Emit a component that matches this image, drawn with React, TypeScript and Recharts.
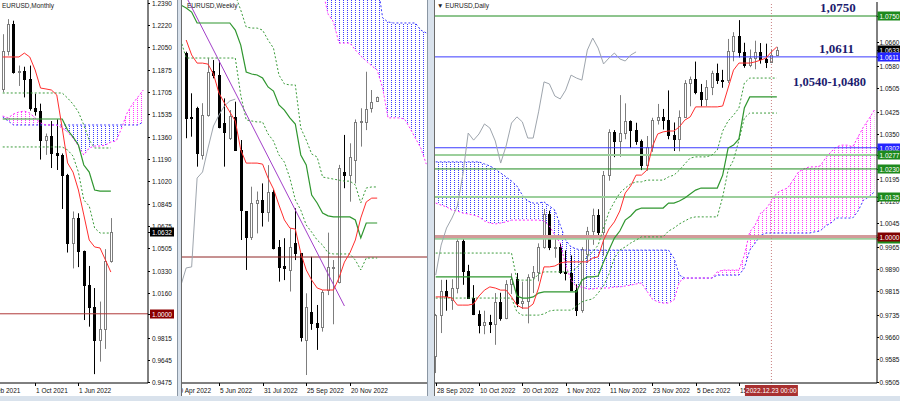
import React from 'react'
import { ComposedChart, Bar, Line, Area, XAxis, YAxis, ReferenceLine } from 'recharts'

const FONT = "'Liberation Sans', Arial, sans-serif"

// ---------- Monthly (slot 0 = Apr 2021) ----------
const mOpen = [1.1728, 1.2020, 1.2228, 1.1858, 1.1868, 1.1807, 1.1579, 1.1558, 1.1338, 1.1370, 1.1235, 1.1218, 1.1067, 1.0545, 1.0733, 1.0484, 1.0220, 1.0054, 0.9802, 0.9881, 1.0405]
const mHigh = [1.2150, 1.2266, 1.2254, 1.1909, 1.1900, 1.1909, 1.1692, 1.1616, 1.1386, 1.1482, 1.1495, 1.1233, 1.1076, 1.0787, 1.0773, 1.0486, 1.0368, 1.0198, 1.0094, 1.0497, 1.0736]
const mLow = [1.1704, 1.1986, 1.1847, 1.1752, 1.1664, 1.1562, 1.1524, 1.1186, 1.1222, 1.1121, 1.1106, 1.0806, 1.0471, 1.0349, 1.0359, 0.9952, 0.9901, 0.9536, 0.9632, 0.9730, 1.0393]
const mClose = [1.2020, 1.2228, 1.1858, 1.1868, 1.1807, 1.1579, 1.1558, 1.1338, 1.1370, 1.1235, 1.1218, 1.1067, 1.0545, 1.0733, 1.0484, 1.0220, 1.0054, 0.9802, 0.9881, 1.0405, 1.0632]
const mTenkan = [1.1975, 1.1975, 1.1975, 1.1975, 1.2005, 1.1975, 1.1875, 1.1736, 1.1729, 1.1721, 1.1683, 1.1429, 1.1160, 1.1090, 1.0952, 1.0760, 1.0567, 1.0514, 1.0506, 1.0414, 1.0321]
const mKijun = [1.1498, 1.1498, 1.1498, 1.1498, 1.1498, 1.1498, 1.1498, 1.1498, 1.1498, 1.1498, 1.1498, 1.1498, 1.1413, 1.1360, 1.1298, 1.1144, 1.1090, 1.0952, 1.0944, 1.0944, 1.0944]
const mDashUp = [1.1698, 1.1698, 1.1698, 1.1698, 1.1698, 1.1698, 1.1698, 1.1698, 1.1698, 1.1698, 1.1698, 1.1698, 1.1659, 1.1613, 1.1552, 1.1452, 1.1336, 1.1275, 1.1275, 1.1275, 1.1275]
const mDashLow = [1.1283, 1.1283, 1.1283, 1.1283, 1.1283, 1.1283, 1.1283, 1.1283, 1.1283, 1.1283, 1.1283, 1.1283, 1.1260, 1.1213, 1.1090, 1.0875, 1.0829, 1.0660, 1.0621, 1.0621, 1.0621]
const mSpanA = [1.1513, 1.1483, 1.1452, 1.1452, 1.1452, 1.1452, 1.1452, 1.1452, 1.1452, 1.1452, 1.1452, 1.1452, 1.1452, 1.1452, 1.1452, 1.1452, 1.1452, 1.1452, 1.1452, 1.1452, 1.1452, 1.1452, 1.1452, 1.1452, 1.1452, 1.1452, 1.1475]
const mSpanB = [1.1521, 1.1506, 1.1536, 1.1552, 1.1559, 1.1544, 1.1506, 1.1467, 1.1452, 1.1452, 1.1452, 1.1429, 1.1398, 1.1352, 1.1290, 1.1221, 1.1275, 1.1290, 1.1290, 1.1298, 1.1321, 1.1329, 1.1429, 1.1544, 1.1613, 1.1667, 1.1721]
const mTicks = [1.2390, 1.2220, 1.2050, 1.1875, 1.1705, 1.1535, 1.1360, 1.1190, 1.1020, 1.0845, 1.0675, 1.0505, 1.0330, 1.0160, 0.9815, 0.9645, 0.9475, 1.0632, 1.0000]
const mBoxes: Record<string, string> = { '1.0632': '#000000', '1.0000': '#8b0000' }
const mDates: [number, string][] = [[-2, 'Feb 2021'], [6, '1 Oct 2021'], [14, '1 Jun 2022']]

// ---------- Weekly (slot 0 = 24 Apr 2022) ----------
const wOpen = [1.0803, 1.0550, 1.0586, 1.0402, 1.0560, 1.0734, 1.0717, 1.0527, 1.0468, 1.0553, 1.0422, 1.0180, 1.0080, 1.0212, 1.0225, 1.0179, 1.0258, 1.0041, 0.9965, 0.9949, 1.0054, 1.0014, 0.9673, 0.9785, 0.9739, 0.9726, 0.9870, 0.9958, 0.9903, 1.0336, 1.0323, 1.0382, 1.0533, 1.0533, 1.0586, 1.0615]
const wHigh = [1.0809, 1.0645, 1.0592, 1.0606, 1.0783, 1.0776, 1.0774, 1.0625, 1.0579, 1.0612, 1.0461, 1.0180, 1.0277, 1.0258, 1.0290, 1.0362, 1.0265, 1.0067, 1.0074, 1.0113, 1.0192, 1.0014, 0.9857, 1.0001, 0.9811, 0.9870, 1.0096, 0.9988, 1.0363, 1.0481, 1.0448, 1.0542, 1.0586, 1.0730, 1.0658, 1.0632]
const wLow = [1.0468, 1.0474, 1.0356, 1.0384, 1.0553, 1.0704, 1.0507, 1.0356, 1.0461, 1.0422, 1.0067, 0.9949, 1.0067, 1.0093, 1.0120, 1.0139, 1.0030, 0.9903, 0.9909, 0.9864, 0.9988, 0.9667, 0.9535, 0.9713, 0.9634, 0.9706, 0.9850, 0.9735, 0.9896, 1.0271, 1.0218, 1.0290, 1.0435, 1.0500, 1.0569, 1.0612]
const wClose = [1.0546, 1.0546, 1.0409, 1.0560, 1.0730, 1.0717, 1.0514, 1.0494, 1.0556, 1.0422, 1.0185, 1.0080, 1.0212, 1.0225, 1.0179, 1.0258, 1.0034, 0.9962, 0.9955, 1.0041, 1.0014, 0.9686, 0.9804, 0.9739, 0.9723, 0.9864, 0.9962, 0.9962, 1.0350, 1.0323, 1.0395, 1.0533, 1.0537, 1.0582, 1.0611, 1.0629]
const wTenkan = [1.0855, 1.0796, 1.0764, 1.0764, 1.0760, 1.0721, 1.0646, 1.0607, 1.0571, 1.0536, 1.0422, 1.0370, 1.0370, 1.0370, 1.0366, 1.0311, 1.0268, 1.0205, 1.0146, 1.0114, 1.0110, 1.0016, 0.9949, 0.9909, 0.9878, 0.9870, 0.9870, 0.9870, 0.9917, 0.9980, 1.0016, 1.0067, 1.0154, 1.0217, 1.0232, 1.0232]
// the next four start at slot -1
const wKijun = [1.0993, 1.0981, 1.0965, 1.0922, 1.0922, 1.0922, 1.0922, 1.0922, 1.0922, 1.0922, 1.0894, 1.0835, 1.0729, 1.0721, 1.0717, 1.0705, 1.0670, 1.0654, 1.0599, 1.0579, 1.0548, 1.0524, 1.0402, 1.0363, 1.0244, 1.0213, 1.0173, 1.0162, 1.0158, 1.0158, 1.0158, 1.0158, 1.0146, 1.0075, 1.0134, 1.0134, 1.0134]
const wDashUp = [null, null, null, null, null, null, null, null, null, null, 1.1032, 1.0973, 1.0906, 1.0902, 1.0902, 1.0894, 1.0855, 1.0823, 1.0717, 1.0682, 1.0678, 1.0678, 1.0508, 1.0461, 1.0406, 1.0394, 1.0315, 1.0311, 1.0307, 1.0303, 1.0299, 1.0299, 1.0284, 1.0213, 1.0272, 1.0276, 1.0276]
const wDashLow = [1.0855, 1.0784, 1.0784, 1.0784, 1.0784, 1.0784, 1.0784, 1.0784, 1.0784, 1.0784, 1.0784, 1.0638, 1.0540, 1.0536, 1.0532, 1.0532, 1.0485, 1.0457, 1.0402, 1.0374, 1.0311, 1.0225, 1.0185, 1.0126, 1.0098, 1.0067, 1.0047, 1.0016, 1.0012, 1.0012, 1.0012, 1.0012, 0.9988, 0.9949, 0.9996, 0.9996, 0.9996]
const wChikou = [0.9886, 0.9957, 0.9961, 1.0311, 1.0335, 1.0429, 1.0516, 1.0559, 1.0595, 1.0615, 1.0622]
// spans start at slot 25
const wSpanA = [1.1091, 1.1091, 1.1091, 1.1091, 1.1091, 1.1091, 1.1091, 1.1091, 1.1091, 1.1091, 1.1091, 1.0942, 1.0926, 1.0922, 1.0922, 1.0922, 1.0922, 1.0922, 1.0894, 1.0883]
const wSpanB = [1.1052, 1.0957, 1.0926, 1.0843, 1.0843, 1.0843, 1.0816, 1.0792, 1.0772, 1.0753, 1.0737, 1.0666, 1.0548, 1.0548, 1.0548, 1.0544, 1.0508, 1.0469, 1.0429, 1.0366]
const wTrendIdx = [0, 29]
const wTrendVal = [1.1026, 0.9807]
const wDates: [number, string][] = [[-2, '10 Apr 2022'], [6, '5 Jun 2022'], [14, '31 Jul 2022'], [22, '25 Sep 2022'], [30, '20 Nov 2022']]

// ---------- Daily (slot 0 = 28 Sep 2022) ----------
const dOpen = [0.9594, 0.9733, 0.9815, 0.9786, 0.9825, 0.9985, 0.9884, 0.9792, 0.9738, 0.9700, 0.9708, 0.9702, 0.9779, 0.9722, 0.9838, 0.9856, 0.9774, 0.9780, 0.9862, 0.9880, 0.9965, 1.0078, 0.9964, 0.9965, 0.9881, 0.9876, 0.9819, 0.9749, 0.9940, 1.0019, 1.0073, 1.0014, 1.0208, 1.0354, 1.0324, 1.0351, 1.0392, 1.0362, 1.0324, 1.0242, 1.0306, 1.0396, 1.0407, 1.0398, 1.0344, 1.0331, 1.0406, 1.0523, 1.0536, 1.0491, 1.0467, 1.0508, 1.0555, 1.0533, 1.0531, 1.0630, 1.0682, 1.0626, 1.0585, 1.0606, 1.0626, 1.0605, 1.0594, 1.0618]
const dHigh = [0.9737, 0.9853, 0.9853, 0.9855, 0.9999, 0.9999, 0.9904, 0.9835, 0.9749, 0.9748, 0.9734, 0.9808, 0.9809, 0.9852, 0.9875, 0.9876, 0.9847, 0.9872, 0.9900, 0.9977, 1.0094, 1.0088, 0.9991, 0.9978, 0.9953, 0.9936, 0.9838, 0.9964, 1.0033, 1.0095, 1.0093, 1.0223, 1.0365, 1.0362, 1.0481, 1.0453, 1.0395, 1.0387, 1.0330, 1.0342, 1.0404, 1.0451, 1.0434, 1.0497, 1.0388, 1.0429, 1.0532, 1.0544, 1.0595, 1.0519, 1.0532, 1.0564, 1.0588, 1.0567, 1.0672, 1.0695, 1.0736, 1.0659, 1.0636, 1.0666, 1.0658, 1.0656, 1.0636, 1.0645]
const dLow = [0.9536, 0.9672, 0.9748, 0.9751, 0.9807, 0.9836, 0.9789, 0.9733, 0.9671, 0.9668, 0.9672, 0.9632, 0.9714, 0.9719, 0.9805, 0.9760, 0.9754, 0.9705, 0.9808, 0.9848, 0.9959, 0.9954, 0.9928, 0.9873, 0.9851, 0.9815, 0.9730, 0.9741, 0.9910, 0.9972, 1.0001, 0.9935, 1.0190, 1.0270, 1.0271, 1.0331, 1.0301, 1.0312, 1.0226, 1.0224, 1.0288, 1.0381, 1.0364, 1.0331, 1.0291, 1.0290, 1.0405, 1.0443, 1.0484, 1.0443, 1.0443, 1.0481, 1.0519, 1.0506, 1.0522, 1.0596, 1.0609, 1.0574, 1.0576, 1.0569, 1.0588, 1.0573, 1.0590, 1.0614]
const dClose = [0.9733, 0.9815, 0.9799, 0.9825, 0.9985, 0.9884, 0.9792, 0.9738, 0.9700, 0.9708, 0.9702, 0.9779, 0.9722, 0.9838, 0.9856, 0.9774, 0.9780, 0.9862, 0.9880, 0.9965, 1.0078, 0.9964, 0.9965, 0.9881, 0.9876, 0.9819, 0.9749, 0.9959, 1.0019, 1.0073, 1.0014, 1.0208, 1.0354, 1.0324, 1.0351, 1.0392, 1.0362, 1.0324, 1.0242, 1.0306, 1.0396, 1.0407, 1.0398, 1.0344, 1.0331, 1.0406, 1.0523, 1.0536, 1.0491, 1.0467, 1.0508, 1.0555, 1.0533, 1.0531, 1.0630, 1.0682, 1.0626, 1.0585, 1.0606, 1.0626, 1.0605, 1.0594, 1.0618, 1.0633]
const dTenkan = [0.9795, 0.9795, 0.9795, 0.9791, 0.9767, 0.9767, 0.9767, 0.9771, 0.9798, 0.9818, 0.9829, 0.9825, 0.9818, 0.9818, 0.9795, 0.9767, 0.9757, 0.9757, 0.9771, 0.9825, 0.9897, 0.9897, 0.9900, 0.9910, 0.9914, 0.9914, 0.9914, 0.9914, 0.9914, 0.9927, 0.9931, 0.9988, 1.0026, 1.0050, 1.0087, 1.0148, 1.0172, 1.0209, 1.0209, 1.0226, 1.0305, 1.0349, 1.0356, 1.0359, 1.0359, 1.0373, 1.0396, 1.0407, 1.0441, 1.0441, 1.0441, 1.0441, 1.0441, 1.0444, 1.0505, 1.0566, 1.0590, 1.0590, 1.0590, 1.0594, 1.0600, 1.0607, 1.0628, 1.0645]
const dKijun = [0.9863, 0.9863, 0.9863, 0.9863, 0.9863, 0.9863, 0.9863, 0.9863, 0.9863, 0.9863, 0.9863, 0.9863, 0.9863, 0.9863, 0.9863, 0.9798, 0.9791, 0.9791, 0.9795, 0.9808, 0.9812, 0.9812, 0.9812, 0.9812, 0.9812, 0.9812, 0.9812, 0.9852, 0.9863, 0.9863, 0.9866, 0.9914, 0.9954, 0.9995, 1.0019, 1.0056, 1.0070, 1.0090, 1.0097, 1.0097, 1.0097, 1.0097, 1.0097, 1.0114, 1.0114, 1.0121, 1.0131, 1.0145, 1.0158, 1.0165, 1.0165, 1.0165, 1.0165, 1.0209, 1.0301, 1.0311, 1.0332, 1.0437, 1.0475, 1.0475, 1.0475, 1.0475, 1.0475, 1.0475]
const dDashUp = [0.9944, 0.9944, 0.9944, 0.9944, 0.9944, 0.9944, 0.9944, 0.9944, 0.9944, 0.9944, 0.9944, 0.9944, 0.9944, 0.9944, 0.9944, 0.9852, 0.9852, 0.9852, 0.9852, 0.9873, 0.9880, 0.9880, 0.9880, 0.9880, 0.9880, 0.9880, 0.9893, 0.9914, 0.9931, 0.9948, 0.9971, 1.0029, 1.0084, 1.0118, 1.0148, 1.0165, 1.0179, 1.0186, 1.0186, 1.0192, 1.0192, 1.0192, 1.0192, 1.0203, 1.0209, 1.0226, 1.0247, 1.0267, 1.0271, 1.0271, 1.0271, 1.0277, 1.0294, 1.0359, 1.0393, 1.0413, 1.0437, 1.0522, 1.0539, 1.0539, 1.0539, 1.0539, 1.0539, 1.0539]
const dDashLow = [0.9791, 0.9791, 0.9791, 0.9791, 0.9791, 0.9791, 0.9791, 0.9791, 0.9791, 0.9791, 0.9791, 0.9791, 0.9791, 0.9791, 0.9791, 0.9744, 0.9733, 0.9733, 0.9733, 0.9733, 0.9737, 0.9747, 0.9750, 0.9750, 0.9750, 0.9750, 0.9764, 0.9778, 0.9784, 0.9788, 0.9808, 0.9832, 0.9873, 0.9927, 0.9954, 0.9965, 0.9978, 0.9988, 0.9999, 0.9999, 0.9999, 0.9999, 0.9999, 1.0019, 1.0029, 1.0043, 1.0053, 1.0063, 1.0067, 1.0067, 1.0067, 1.0067, 1.0067, 1.0135, 1.0226, 1.0260, 1.0328, 1.0403, 1.0420, 1.0420, 1.0420, 1.0420, 1.0420, 1.0420]
const dChikou = [0.9869, 0.9971, 1.0029, 1.0063, 1.0104, 1.0209, 1.0352, 1.0328, 1.0349, 1.0383, 1.0369, 1.0325, 1.0250, 1.0308, 1.0386, 1.0407, 1.0390, 1.0335, 1.0335, 1.0424, 1.0526, 1.0519, 1.0478, 1.0468, 1.0498, 1.0549, 1.0539, 1.0532, 1.0634, 1.0675, 1.0641, 1.0587, 1.0607, 1.0624, 1.0604, 1.0597, 1.0617, 1.0628]
const dSpanA = [1.0254, 1.0254, 1.0254, 1.0254, 1.0254, 1.0254, 1.0254, 1.0254, 1.0254, 1.0247, 1.0240, 1.0230, 1.0216, 1.0203, 1.0189, 1.0172, 1.0141, 1.0121, 1.0114, 1.0114, 1.0118, 1.0104, 1.0090, 1.0039, 0.9988, 0.9965, 0.9958, 0.9954, 0.9954, 0.9954, 0.9954, 0.9954, 0.9954, 0.9954, 0.9954, 0.9954, 0.9954, 0.9954, 0.9954, 0.9954, 0.9954, 0.9954, 0.9954, 0.9954, 0.9927, 0.9869, 0.9859, 0.9859, 0.9859, 0.9859, 0.9859, 0.9859, 0.9869, 0.9869, 0.9869, 0.9869, 0.9869, 0.9893, 0.9954, 0.9978, 1.0005, 1.0012, 1.0012, 1.0012, 1.0012, 1.0012, 1.0012, 1.0012, 1.0012, 1.0012, 1.0016, 1.0019, 1.0036, 1.0046, 1.0063, 1.0063, 1.0063, 1.0063, 1.0087, 1.0124, 1.0135, 1.0152]
const dSpanB = [1.0114, 1.0107, 1.0101, 1.0090, 1.0087, 1.0080, 1.0077, 1.0073, 1.0067, 1.0053, 1.0046, 1.0043, 1.0046, 1.0050, 1.0056, 1.0056, 1.0056, 1.0056, 1.0056, 1.0056, 1.0053, 1.0036, 1.0005, 0.9978, 0.9903, 0.9852, 0.9829, 0.9829, 0.9822, 0.9822, 0.9825, 0.9825, 0.9825, 0.9829, 0.9829, 0.9832, 0.9835, 0.9839, 0.9842, 0.9815, 0.9788, 0.9778, 0.9774, 0.9774, 0.9784, 0.9846, 0.9859, 0.9859, 0.9859, 0.9859, 0.9859, 0.9859, 0.9880, 0.9886, 0.9886, 0.9886, 0.9886, 0.9937, 1.0016, 1.0039, 1.0080, 1.0094, 1.0121, 1.0148, 1.0158, 1.0165, 1.0192, 1.0220, 1.0230, 1.0237, 1.0237, 1.0240, 1.0267, 1.0288, 1.0305, 1.0311, 1.0311, 1.0305, 1.0339, 1.0373, 1.0400, 1.0430]
const dTicks = [1.0660, 1.0580, 1.0505, 1.0425, 1.0350, 1.0195, 1.0120, 1.0045, 0.9965, 0.9890, 0.9815, 0.9735, 0.9660, 0.9585, 0.9505, 1.0750, 1.0633, 1.0611, 1.0302, 1.0277, 1.0230, 1.0135, 0.9993, 1.0000]
const dBoxes: Record<string, string> = {
  '1.0750': '#1d8a1d', '1.0633': '#000000', '1.0611': '#2424ff', '1.0302': '#2424ff',
  '1.0277': '#1d8a1d', '1.0230': '#1d8a1d', '1.0135': '#1d8a1d', '0.9993': '#1d8a1d', '1.0000': '#800000'
}
const dHiddenText = ['0.9993']
const dDates: [number, string][] = [[0, '28 Sep 2022'], [8, '10 Oct 2022'], [16, '20 Oct 2022'], [24, '1 Nov 2022'], [32, '11 Nov 2022'], [40, '23 Nov 2022'], [48, '5 Dec 2022'], [56, '15 Dec 2022']]
const dStamp: [number, string] = [62, '2022.12.23 00:00']

const C = {
  tenkan: '#ff2e2e', kijun: '#2f962f', dash: '#3c9c3c', chikou: '#9ea5ad',
  spanA: '#3a3aff', spanB: '#ff2cff', trend: '#a23fc8'
}

type Src = [(number | null)[], number]

function at(arr: (number | null)[], start: number, i: number) {
  const v = arr[i - start]
  return v === undefined ? null : v
}

function buildRows(first: number, count: number, ohlc: number[][], series: Record<string, Src>) {
  const rows: any[] = []
  for (let k = 0; k < count; k++) {
    const i = first + k
    const row: any = { i }
    const [o, h, l, c] = ohlc.map((a) => at(a, 0, i))
    if (o != null && i >= 0) {
      row.o = o; row.h = h; row.l = l; row.c = c
      row.range = [l, h]
    }
    for (const key in series) row[key] = at(series[key][0], series[key][1], i)
    const a = row.spanA, b = row.spanB
    if (a != null && b != null) {
      row.cloudUp = [b, Math.max(a, b)]
      row.cloudDn = [a, Math.max(a, b)]
    }
    rows.push(row)
  }
  return rows
}

const monthly = buildRows(0, 27, [mOpen, mHigh, mLow, mClose], {
  tenkan: [mTenkan, 0], kijun: [mKijun, 0], dashUp: [mDashUp, 0], dashLow: [mDashLow, 0],
  spanA: [mSpanA, 0], spanB: [mSpanB, 0]
})

const weekly = buildRows(-1, 46, [wOpen, wHigh, wLow, wClose], {
  tenkan: [wTenkan, 0], kijun: [wKijun, -1], dashUp: [wDashUp, -1], dashLow: [wDashLow, -1],
  chikou: [wChikou, -1], spanA: [wSpanA, 25], spanB: [wSpanB, 25]
})
wTrendIdx.forEach((idx, k) => { weekly[idx + 1].trend = wTrendVal[k] })

const daily = buildRows(0, 82, [dOpen, dHigh, dLow, dClose], {
  tenkan: [dTenkan, 0], kijun: [dKijun, 0], dashUp: [dDashUp, 0], dashLow: [dDashLow, 0],
  chikou: [dChikou, 0], spanA: [dSpanA, 0], spanB: [dSpanB, 0]
})

function Candle(props: any) {
  const { x, y, width, height, payload } = props
  if (!payload || payload.o == null || !isFinite(y) || !isFinite(height)) return <g />
  const top = height < 0 ? y + height : y
  const h = Math.abs(height)
  const span = payload.h - payload.l || 1e-9
  const yO = top + ((payload.h - payload.o) / span) * h
  const yC = top + ((payload.h - payload.c) / span) * h
  const up = payload.c >= payload.o
  const cx = Math.round(x + width / 2)
  const bTop = Math.round(Math.min(yO, yC)) + 0.5
  const bBot = Math.round(Math.max(yO, yC)) + 0.5
  const col = up ? '#7d7d7d' : '#000'
  return (
    <g>
      <line x1={cx + 0.5} x2={cx + 0.5} y1={top} y2={top + h} stroke={col} strokeWidth={1} />
      <rect x={cx - 0.5} y={bTop} width={2} height={Math.max(bBot - bTop, 1)} fill={up ? '#fff' : '#000'} stroke={col} strokeWidth={1} />
    </g>
  )
}

function DateTick(props: any) {
  const { x, y, payload, marks, first, step, stamp } = props
  const v = Number(payload.value)
  const out: any[] = []
  marks.forEach(([idx, text]: [number, string]) => {
    if (idx === v || (v === first && idx < first)) {
      const tx = Math.round(x + (idx - v) * step)
      out.push(<line key={'t' + idx} x1={tx + 0.5} x2={tx + 0.5} y1={y} y2={y + 3} stroke="#000" />)
      out.push(<text key={'l' + idx} x={tx + 1} y={y + 10} fontSize={6.5} fontFamily={FONT} fill="#111">{text}</text>)
    }
  })
  if (stamp && stamp[0] === v) {
    out.push(<rect key="sb" x={x - 26.5} y={y + 2} width={53} height={11} fill="#a83030" />)
    out.push(<text key="st" x={x} y={y + 10} fontSize={6.5} fontFamily={FONT} fill="#fff" textAnchor="middle">{stamp[1]}</text>)
  }
  return <g>{out}</g>
}

function PriceTick(props: any) {
  const { x, y, payload, boxes, textDx, boxDx, boxW, hidden } = props
  const key = Number(payload.value).toFixed(4)
  const box = boxes[key]
  const yy = Math.round(y) + 0.5
  const showText = !(hidden && hidden.includes(key))
  return (
    <g>
      <line x1={x} x2={x + 2} y1={yy} y2={yy} stroke="#000" />
      {box && <rect x={x + boxDx} y={yy - 5} width={boxW} height={9} fill={box} />}
      {showText && <text x={x + textDx} y={yy + 2.5} fontSize={6.5} fontFamily={FONT} fill={box ? '#fff' : '#111'}>{key}</text>}
    </g>
  )
}

const lp = { dot: false, activeDot: false, isAnimationActive: false, type: 'linear' as const }

function cloudLayers() {
  return [
    <Area key="cu" dataKey="cloudUp" stroke="none" fill="url(#hBlue)" fillOpacity={1} {...lp} />,
    <Area key="cd" dataKey="cloudDn" stroke="none" fill="url(#hPink)" fillOpacity={1} {...lp} />,
    <Line key="sa" dataKey="spanA" stroke={C.spanA} strokeWidth={1} strokeDasharray="2 2" {...lp} />,
    <Line key="sb" dataKey="spanB" stroke={C.spanB} strokeWidth={1} strokeDasharray="2 2" {...lp} />
  ]
}

function indicatorLines(withChikou: boolean) {
  const arr = [
    <Line key="du" dataKey="dashUp" stroke={C.dash} strokeWidth={1} strokeDasharray="2 2" {...lp} />,
    <Line key="dl" dataKey="dashLow" stroke={C.dash} strokeWidth={1} strokeDasharray="2 2" {...lp} />,
    <Line key="kj" dataKey="kijun" stroke={C.kijun} strokeWidth={1.2} {...lp} />,
    <Line key="tk" dataKey="tenkan" stroke={C.tenkan} strokeWidth={1} {...lp} />
  ]
  if (withChikou) arr.unshift(<Line key="ck" dataKey="chikou" stroke={C.chikou} strokeWidth={1} {...lp} />)
  return arr
}

function MonthlyChart() {
  return (
    <ComposedChart width={178} height={396} data={monthly} margin={{ top: 0, right: 0, bottom: 0, left: 0 }}>
      <XAxis dataKey="i" type="category" interval={0} height={13} tickLine={false} tickSize={0} tickMargin={0}
        axisLine={{ stroke: '#000' }} padding={{ left: 0, right: 2 }}
        tick={(p: any) => <DateTick {...p} marks={mDates} first={0} step={5.4} />} />
      <YAxis orientation="right" width={30} type="number" domain={[0.94678, 1.24131]} allowDataOverflow
        ticks={mTicks} interval={0} tickLine={false} tickSize={0} tickMargin={0} axisLine={{ stroke: '#000' }}
        tick={(p: any) => <PriceTick {...p} boxes={mBoxes} textDx={4} boxDx={2} boxW={24} />} />
      {cloudLayers()}
      <ReferenceLine y={1.0} stroke="#b03a3a" strokeWidth={1} />
      <Bar dataKey="range" shape={Candle} isAnimationActive={false} barSize={3} />
      {indicatorLines(false)}
    </ComposedChart>
  )
}

function WeeklyChart() {
  return (
    <ComposedChart width={251} height={396} data={weekly} margin={{ top: 0, right: 0, bottom: 0, left: 0 }}>
      <XAxis dataKey="i" type="category" interval={0} height={13} tickLine={false} tickSize={0} tickMargin={0}
        axisLine={{ stroke: '#000' }}
        tick={(p: any) => <DateTick {...p} marks={wDates} first={-1} step={5.457} />} />
      <YAxis hide type="number" domain={[0.95036, 1.10126]} allowDataOverflow />
      {cloudLayers()}
      <ReferenceLine y={1.0} stroke="#8e2424" strokeWidth={1} />
      <Line dataKey="trend" stroke={C.trend} strokeWidth={1} connectNulls {...lp} />
      <Bar dataKey="range" shape={Candle} isAnimationActive={false} barSize={3} />
      {indicatorLines(true)}
    </ComposedChart>
  )
}

function DailyChart() {
  return (
    <ComposedChart width={467} height={396} data={daily} margin={{ top: 2, right: 0, bottom: 0, left: 0 }}>
      <XAxis dataKey="i" type="category" interval={0} height={13} tickLine={false} tickSize={0} tickMargin={0}
        axisLine={{ stroke: '#000' }}
        tick={(p: any) => <DateTick {...p} marks={dDates} first={0} step={5.415} stamp={dStamp} />} />
      <YAxis orientation="right" width={23} type="number" domain={[0.95022, 1.07976]} allowDataOverflow
        ticks={dTicks} interval={0} tickLine={false} tickSize={0} tickMargin={0} axisLine={{ stroke: '#000' }}
        tick={(p: any) => <PriceTick {...p} boxes={dBoxes} hidden={dHiddenText} textDx={2.5} boxDx={0.5} boxW={23} />} />
      {cloudLayers()}
      <ReferenceLine y={1.0750} stroke="#1d8a1d" strokeWidth={1} />
      <ReferenceLine y={1.0611} stroke="#3b3bff" strokeWidth={1} />
      <ReferenceLine y={1.0302} stroke="#3b3bff" strokeWidth={1} />
      <ReferenceLine y={1.0277} stroke="#9ccf9c" strokeWidth={2} />
      <ReferenceLine y={1.0230} stroke="#1d8a1d" strokeWidth={1} />
      <ReferenceLine y={1.0135} stroke="#9ccf9c" strokeWidth={2} />
      <ReferenceLine y={0.9993} stroke="#9ccf9c" strokeWidth={2} />
      <ReferenceLine y={1.0000} stroke="#d39a9a" strokeWidth={3} />
      <ReferenceLine x={62} stroke="#c98080" strokeWidth={1} strokeDasharray="1 2" />
      <Bar dataKey="range" shape={Candle} isAnimationActive={false} barSize={3} />
      {indicatorLines(true)}
    </ComposedChart>
  )
}

const titleStyle: React.CSSProperties = {
  position: 'absolute', top: 2, fontSize: 6.5, lineHeight: '8px', color: '#222', fontFamily: FONT, whiteSpace: 'nowrap'
}
const noteStyle: React.CSSProperties = {
  position: 'absolute', fontFamily: "'Liberation Serif', 'Times New Roman', serif", fontWeight: 700,
  fontSize: 13, lineHeight: '13px', color: '#1c1c6e', whiteSpace: 'nowrap'
}

export default function App() {
  return (
    <div style={{ position: 'fixed', left: 0, top: 0, width: 900, height: 401, background: '#d9e2ec', overflow: 'hidden' }}>
      <svg width={0} height={0} style={{ position: 'absolute' }}>
        <defs>
          <pattern id="hBlue" patternUnits="userSpaceOnUse" width={4} height={2}>
            <rect x={1} y={0} width={1} height={1} fill="#3c3cff" />
          </pattern>
          <pattern id="hPink" patternUnits="userSpaceOnUse" width={4} height={2}>
            <rect x={1} y={0} width={1} height={1} fill="#ff3cff" />
          </pattern>
        </defs>
      </svg>

      <div style={{ position: 'absolute', left: 0, top: 0, width: 178, height: 396, background: '#fff', overflow: 'hidden' }}>
        <MonthlyChart />
        <div style={{ ...titleStyle, left: 2 }}>EURUSD,Monthly</div>
      </div>

      <div style={{ position: 'absolute', left: 181, top: 0, width: 246, height: 396, background: '#fff', overflow: 'hidden' }}>
        <div style={{ position: 'absolute', left: -3, top: 0 }}>
          <WeeklyChart />
        </div>
        <div style={{ ...titleStyle, left: 6 }}>EURUSD,Weekly</div>
      </div>

      <div style={{ position: 'absolute', left: 434, top: 0, width: 466, height: 396, background: '#fff', overflow: 'hidden' }}>
        <div style={{ position: 'absolute', left: -1, top: 0 }}>
          <DailyChart />
        </div>
        <div style={{ ...titleStyle, left: 3 }}>▼ EURUSD,Daily</div>
      </div>

      <div style={{ position: 'absolute', left: 177, top: 0, width: 1, height: 396, background: '#8a96a3' }} />
      <div style={{ position: 'absolute', left: 181, top: 0, width: 1, height: 396, background: '#6b6b6b' }} />
      <div style={{ position: 'absolute', left: 427, top: 0, width: 1, height: 396, background: '#8a96a3' }} />
      <div style={{ position: 'absolute', left: 434, top: 0, width: 1, height: 396, background: '#6b6b6b' }} />

      <div style={{ ...noteStyle, left: 820, top: 1 }}>1,0750</div>
      <div style={{ ...noteStyle, left: 819, top: 42 }}>1,0611</div>
      <div style={{ ...noteStyle, left: 793, top: 76, fontSize: 12.5 }}>1,0540-1,0480</div>
    </div>
  )
}
